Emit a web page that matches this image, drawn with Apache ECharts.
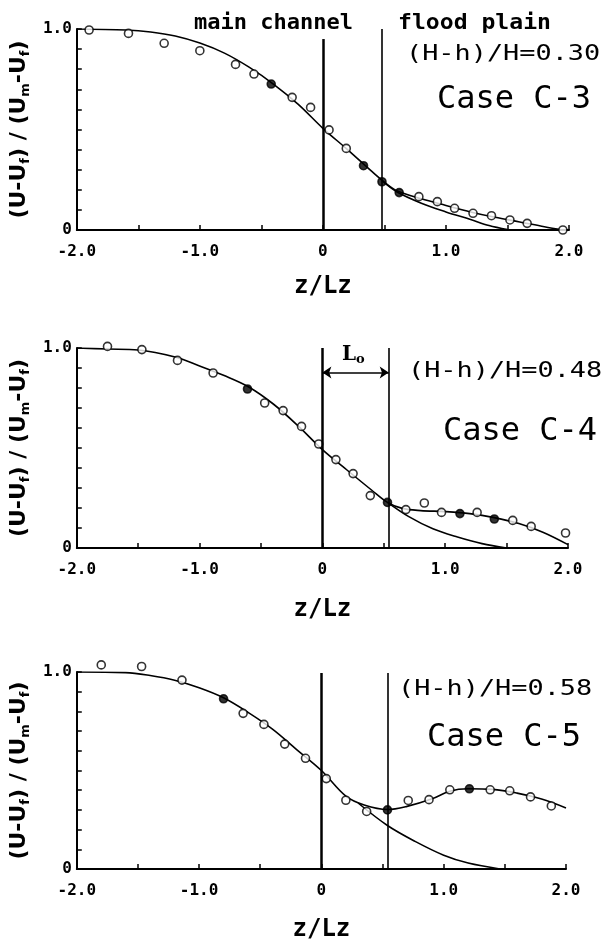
<!DOCTYPE html>
<html><head><meta charset="utf-8">
<script src="https://cdn.jsdelivr.net/npm/echarts@6/dist/echarts.min.js"></script>
<style>html,body{margin:0;padding:0;background:#fff}#c{width:609px;height:943px}</style>
</head><body><div id="c"></div>
<script>
// ---- tick labels ----
const xTickValues = [-2, -1, 0, 1, 2];
const xTickLabels = ['-2.0', '-1.0', '0', '1.0', '2.0'];
const yTickValues = [0, 1];
const yTickLabels = ['0', '1.0'];

// ---- Case C-3 ----
const c3Z = [-1.90,-1.58,-1.29,-1.00,-0.71,-0.56,-0.42,-0.25,-0.10,0.05,0.19,0.33,0.48,0.62,0.78,0.93,1.07,1.22,1.37,1.52,1.66,1.95];
const c3U = [0.995,0.978,0.929,0.892,0.824,0.776,0.726,0.660,0.610,0.498,0.406,0.320,0.240,0.186,0.166,0.141,0.108,0.083,0.071,0.050,0.033,0.0];
const c3Filled = [6, 11, 12, 13];
const c3FitZ = [-2.0,-1.6,-1.4,-1.2,-1.0,-0.8,-0.6,-0.4,-0.2,0,0.2,0.4,0.5,0.6,0.8,1.0,1.2,1.4,1.6,1.8,1.95];
const c3FitU = [1.0,0.995,0.985,0.965,0.93,0.88,0.81,0.725,0.625,0.506,0.4,0.29,0.238,0.196,0.155,0.122,0.09,0.063,0.04,0.016,0.0];
const c3ChZ = [0.48,0.6,0.8,1.0,1.2,1.35,1.5];
const c3ChU = [0.245,0.19,0.133,0.09,0.052,0.022,0.002];

// ---- Case C-4 ----
const c4Z = [-1.75,-1.47,-1.18,-0.89,-0.61,-0.47,-0.32,-0.17,-0.03,0.11,0.25,0.39,0.53,0.68,0.83,0.97,1.12,1.26,1.40,1.55,1.70,1.98];
const c4U = [1.008,0.992,0.938,0.875,0.795,0.725,0.687,0.608,0.52,0.442,0.372,0.262,0.228,0.192,0.225,0.178,0.172,0.178,0.145,0.138,0.108,0.075];
const c4Filled = [4, 12, 16, 18];
const c4FitZ = [-2.0,-1.75,-1.5,-1.2,-1.0,-0.8,-0.6,-0.4,-0.2,0,0.2,0.4,0.53,0.65,0.8,1.0,1.2,1.4,1.6,1.8,2.0];
const c4FitU = [1.0,0.995,0.99,0.955,0.91,0.862,0.805,0.72,0.612,0.492,0.39,0.29,0.228,0.198,0.187,0.182,0.172,0.152,0.122,0.078,0.017];
const c4ChZ = [0.53,0.7,0.9,1.1,1.3,1.5];
const c4ChU = [0.228,0.158,0.096,0.055,0.022,0.0];

// ---- Case C-5 ----
const c5Z = [-1.80,-1.47,-1.14,-0.80,-0.64,-0.47,-0.30,-0.13,0.04,0.20,0.37,0.54,0.71,0.88,1.05,1.21,1.38,1.54,1.71,1.88];
const c5U = [1.036,1.028,0.959,0.864,0.79,0.734,0.634,0.562,0.459,0.349,0.292,0.30,0.348,0.352,0.402,0.407,0.402,0.397,0.366,0.32];
const c5Filled = [3, 11, 15];
const c5FitZ = [-2.0,-1.6,-1.4,-1.2,-1.0,-0.8,-0.6,-0.4,-0.2,0,0.2,0.35,0.54,0.7,0.9,1.05,1.2,1.4,1.6,1.8,2.0];
const c5FitU = [1.0,0.997,0.982,0.958,0.92,0.869,0.795,0.71,0.605,0.5,0.37,0.325,0.302,0.318,0.355,0.395,0.407,0.404,0.385,0.355,0.31];
const c5ChZ = [0.3,0.54,0.77,1.0,1.2,1.46];
const c5ChU = [0.335,0.221,0.139,0.07,0.03,0.0];

// ---- boundaries (z/Lz of main channel / flood plain edge) & tops ----
const edgeZ = [0.48, 0.54, 0.54];
const centerLineTop = [0.95, 1.0, 0.995];
const edgeLineTop = [1.0, 1.0, 0.995];
const loArrowU = 0.878;

const depthLabels = ['(H-h)/H=0.30', '(H-h)/H=0.48', '(H-h)/H=0.58'];
const caseLabels = ['Case C-3', 'Case C-4', 'Case C-5'];

const zip = (a, b) => a.map((v, i) => [v, b[i]]);
const MONO = '"DejaVu Sans Mono"';

const grids = [
  {left: 66, top: 29, width: 503, height: 201},
  {left: 66, top: 348, width: 502, height: 200},
  {left: 61, top: 672, width: 505, height: 202}
];
const xNameGaps = [45, 50, 49];
const yNameGaps = [25, 25, 23];

const xAxes = grids.map((g, i) => ({
  type: 'value', gridIndex: i, min: -2, max: 2, interval: 0.5,
  axisLine: {show: true, onZero: false, lineStyle: {color: '#000', width: 2}},
  axisTick: {show: true, inside: true, length: 5, lineStyle: {color: '#000', width: 1.5}},
  splitLine: {show: false},
  axisLabel: {
    margin: 14, color: '#000', fontFamily: MONO, fontWeight: 'bold', fontSize: 16,
    formatter: v => { const k = xTickValues.findIndex(t => Math.abs(t - v) < 1e-6); return k >= 0 ? xTickLabels[k] : ''; }
  },
  name: 'z/Lz', nameLocation: 'middle', nameGap: xNameGaps[i],
  nameTextStyle: {fontFamily: MONO, fontWeight: 'bold', fontSize: 24, color: '#000'}
}));

const yAxes = grids.map((g, i) => ({
  type: 'value', gridIndex: i, min: 0, max: 1, interval: 0.1,
  axisLine: {show: true, onZero: false, lineStyle: {color: '#000', width: 2}},
  axisTick: {show: true, inside: true, length: 5, lineStyle: {color: '#000', width: 1.5}},
  splitLine: {show: false},
  axisLabel: {
    margin: 5, color: '#000', fontFamily: MONO, fontWeight: 'bold', fontSize: 16,
    formatter: v => { const k = yTickValues.findIndex(t => Math.abs(t - v) < 1e-6); return k >= 0 ? yTickLabels[k] : ''; }
  },
  name: '{n|(U-U}{s|f}{n|) / (U}{s|m}{n|-U}{s|f}{n|)}',
  nameLocation: 'middle', nameRotate: 90, nameGap: yNameGaps[i],
  nameTextStyle: {
    color: '#000',
    rich: {
      n: {fontFamily: '"DejaVu Sans"', fontWeight: 'bold', fontSize: 22, lineHeight: 26, color: '#000'},
      s: {fontFamily: '"DejaVu Sans"', fontWeight: 'bold', fontSize: 13, verticalAlign: 'bottom', color: '#000'}
    }
  }
}));

const cases = [
  {z: c3Z, u: c3U, filled: c3Filled, fz: c3FitZ, fu: c3FitU, cz: c3ChZ, cu: c3ChU},
  {z: c4Z, u: c4U, filled: c4Filled, fz: c4FitZ, fu: c4FitU, cz: c4ChZ, cu: c4ChU},
  {z: c5Z, u: c5U, filled: c5Filled, fz: c5FitZ, fu: c5FitU, cz: c5ChZ, cu: c5ChU}
];

const series = [];
cases.forEach((c, i) => {
  const markData = [
    [{coord: [0, 0], lineStyle: {width: 2.5}}, {coord: [0, centerLineTop[i]]}],
    [{coord: [edgeZ[i], 0], lineStyle: {width: 1.6}}, {coord: [edgeZ[i], edgeLineTop[i]]}]
  ];
  series.push({
    type: 'line', xAxisIndex: i, yAxisIndex: i, data: zip(c.fz, c.fu),
    smooth: 0.35, showSymbol: false, symbol: 'none', clip: true,
    lineStyle: {color: '#000', width: 1.6}, z: 2, silent: true,
    markLine: {symbol: 'none', silent: true, animation: false, label: {show: false},
      lineStyle: {color: '#000', type: 'solid'}, data: markData}
  });
  series.push({
    type: 'line', xAxisIndex: i, yAxisIndex: i, data: zip(c.cz, c.cu),
    smooth: 0.35, showSymbol: false, symbol: 'none', clip: true,
    lineStyle: {color: '#000', width: 1.6}, z: 2, silent: true
  });
  const all = zip(c.z, c.u);
  series.push({
    type: 'scatter', xAxisIndex: i, yAxisIndex: i, clip: false, z: 3,
    data: all.filter((p, k) => c.filled.indexOf(k) < 0),
    symbol: 'circle', symbolSize: 8,
    itemStyle: {color: '#fff', borderColor: '#000', borderWidth: 1.6}
  });
  series.push({
    type: 'scatter', xAxisIndex: i, yAxisIndex: i, clip: false, z: 3,
    data: all.filter((p, k) => c.filled.indexOf(k) >= 0),
    symbol: 'circle', symbolSize: 8,
    itemStyle: {color: '#000', borderColor: '#000', borderWidth: 1.6}
  });
});
// Lo arrow (panel 2)
series.push({
  type: 'line', xAxisIndex: 1, yAxisIndex: 1, data: [], silent: true,
  markLine: {symbol: ['arrow', 'arrow'], symbolSize: 9, silent: true, animation: false,
    label: {show: false}, lineStyle: {color: '#000', width: 1.6, type: 'solid'},
    data: [[{coord: [0, loArrowU]}, {coord: [edgeZ[1], loArrowU]}]]}
});

function txt(x, y, text, font, extra) {
  return Object.assign({type: 'text', x: x, y: y, silent: true,
    style: {text: text, font: font, fill: '#000', align: 'left', textAlign: 'left', verticalAlign: 'middle', textVerticalAlign: 'middle'}}, extra || {});
}
const depthPos = [[406, 55], [408, 372], [398, 690]];
const casePos = [[437, 100], [443, 432], [427, 738]];
const graphic = [
  txt(194, 23, 'main channel', 'bold 22px ' + MONO),
  txt(398, 23, 'flood plain', 'bold 22px ' + MONO, {scaleX: 1.05})
];
depthLabels.forEach((t, i) => graphic.push(txt(depthPos[i][0], depthPos[i][1], t, '21px ' + MONO, {scaleX: 1.28})));
caseLabels.forEach((t, i) => graphic.push(txt(casePos[i][0], casePos[i][1], t, '32px ' + MONO, {scaleX: 1.0})));
graphic.push({type: 'text', x: 342, y: 355, silent: true,
  style: {text: '{a|L}{b|o}', fill: '#000', align: 'left', verticalAlign: 'middle',
    rich: {a: {font: 'bold 20px "DejaVu Serif"', fill: '#000', lineHeight: 22},
           b: {font: 'bold 13px "DejaVu Serif"', fill: '#000', verticalAlign: 'bottom'}}}});

const chart = echarts.init(document.getElementById('c'), null, {renderer: 'canvas'});
chart.setOption({
  animation: false,
  backgroundColor: '#fff',
  grid: grids.map(g => Object.assign({containLabel: false}, g)),
  xAxis: xAxes, yAxis: yAxes, series: series, graphic: graphic
});
</script></body></html>
